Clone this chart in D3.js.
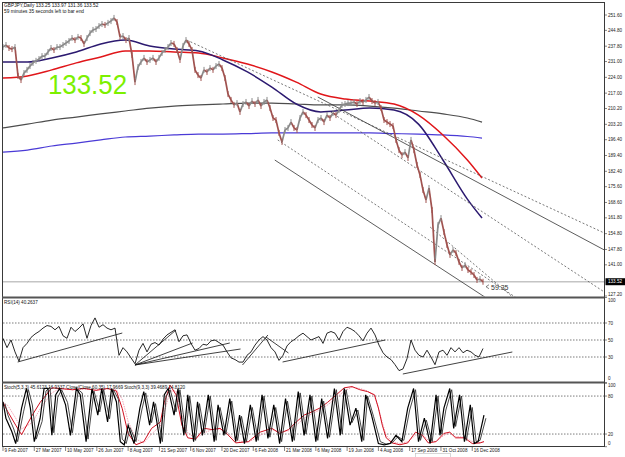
<!DOCTYPE html>
<html>
<head>
<meta charset="utf-8">
<script src="https://cdn.jsdelivr.net/npm/d3@7"></script>
<style>
body{margin:0;background:#fff}
svg{display:block}
text{font-family:"Liberation Sans",Arial,sans-serif}
</style>
</head>
<body>
<svg id="chart" width="625" height="457"></svg>
<script>
// GBPJPY daily, Feb 2007 - Dec 2008, one close every ~3 bars
var priceClose = [
	237.4,238.3,237.0,236.5,237.4,224.6,222.8,225.9,227.3,229.0,
	230.4,231.3,232.1,233.4,233.4,235.2,237.0,236.1,237.4,237.4,
	238.3,239.2,240.1,241.4,240.5,241.9,241.4,238.8,241.4,243.6,
	245.0,245.4,246.7,247.6,247.2,248.1,248.9,250.3,248.5,241.9,
	242.3,240.5,241.4,233.9,221.9,228.6,230.8,232.6,230.8,231.7,
	232.6,230.8,232.6,234.8,236.1,237.4,239.2,238.8,236.1,231.7,
	237.9,240.5,238.8,236.1,227.3,225.0,223.7,227.3,226.4,228.1,
	227.3,229.0,229.9,228.1,223.7,216.6,214.0,211.8,212.6,208.7,
	212.2,213.1,211.3,213.5,212.2,214.0,211.3,213.1,214.0,210.4,
	206.0,205.1,199.4,195.4,200.7,201.6,204.2,201.6,200.7,206.0,
	208.7,207.3,205.1,202.9,201.6,205.1,206.0,204.2,207.3,206.0,
	208.2,207.3,209.5,211.8,212.2,212.6,212.6,213.1,212.2,213.5,
	213.1,214.0,215.3,213.5,212.6,213.1,210.4,205.1,204.2,203.3,
	202.5,196.3,191.8,189.6,190.9,188.3,196.3,191.8,185.2,180.8,
	174.1,169.7,175.0,165.3,142.3,158.6,161.7,155.5,149.8,145.4,
	147.6,146.2,142.3,139.6,140.9,138.7,137.8,136.5,134.3,134.7,133.5
];
var lastPrice = 133.52;

// moving averages, sampled at these bars
var maBars  = [0,25,50,75,100,125,150,175,200,225,250,275,300,325,350,375,400,425,450,475,490];
var maNavy  = [230.8,230.8,232.6,235.2,238.8,240.5,237.9,236.5,235.7,231.7,226.4,219.7,212.2,208.7,209.5,210.4,209.5,203.3,187.4,170.1,161.7];
var maRed   = [223.7,224.6,227.3,230.4,233.0,235.7,235.7,235.2,234.8,232.6,229.9,226.4,221.9,216.6,214.4,213.5,212.2,207.3,198.5,187.4,179.4];
var maGray  = [201.6,203.3,205.1,206.4,207.8,209.1,210.4,211.3,211.8,212.2,212.6,212.6,212.2,211.8,211.8,211.3,210.4,209.1,207.8,206.0,204.2];
var maBlue  = [190.9,191.8,193.6,194.9,196.3,197.6,198.0,198.5,198.9,198.9,199.1,199.4,199.4,199.4,199.4,199.4,199.1,198.9,198.5,197.8,197.1];

// channel lines drawn on the price window: bar1, price1, bar2, price2, dotted
var mainLines = [
	[188,240.5,615,155.1,1],
	[322,215.3,615,147.6,0],
	[335,208.7,615,129.0,1],
	[278,187.4,510,121.9,0],
	[281,196.3,530,125.0,1],
	[437,157.7,525,125.4,1]
];

var priceTicks = [251.6,244.8,237.8,231.0,224.0,217.0,210.2,203.2,196.4,189.4,182.4,175.6,168.6,161.8,154.8,147.8,141.0,127.2];

// RSI(14), one value every ~4 bars
var rsiValues = [
	52,41,50,36,25,41,46,53,57,60,64,67,66,62,66,55,52,65,60,64,
	69,52,67,76,65,68,64,62,64,32,41,36,29,22,38,46,36,45,47,44,
	51,56,59,62,48,55,56,46,38,40,45,44,49,50,47,44,36,29,27,24,
	24,32,36,44,50,54,50,41,36,26,32,43,48,51,55,58,54,50,52,54,
	46,58,60,58,50,60,65,63,60,55,49,58,64,56,44,35,30,27,21,14,
	16,28,50,38,32,30,38,30,21,36,38,32,41,36,41,35,38,36,32,30,40
];
var rsiLevels = [70,50,30];
var rsiTicks = [100,70,50,30,0];
var rsiLines = [
	[15,24.1,122,58.2],
	[135,20.6,177,61.8],
	[135,20.6,194,46.5],
	[135,20.6,232,46.5],
	[135,20.6,243,39.4],
	[245,20.6,271,55.9],
	[269,53.5,292,34.7],
	[286,24.1,391,50.0],
	[409,10.0,521,35.9]
];

// stochastic, turning points
var stochBars = [0,3,9,13,19,24,28,32,38,42,46,50,54,58,64,69,75,79,85,91,
	97,101,107,111,116,120,124,128,134,140,144,150,154,161,165,169,175,179,185,189,
	195,199,204,210,216,220,226,232,238,242,247,253,259,265,271,277,283,289,296,302,
	308,314,320,326,332,339,345,349,355,361,367,371,377,384,390,396,402,408,414,420,
	425,431,437,443,447,451,457,461,467,472,478,482,486,492];
var stochMain = [71,45,24,5,61,92,61,8,45,92,92,18,82,92,66,18,92,82,8,92,
	50,92,39,92,71,8,3,34,5,61,87,34,71,5,82,92,50,92,18,82,
	8,71,18,82,8,66,18,76,8,50,5,66,8,82,13,66,5,76,8,87,
	18,82,8,76,13,92,18,92,34,61,8,82,50,5,3,5,18,8,61,92,
	8,45,5,82,18,61,92,29,82,8,66,5,8,50];
// second black line, trails the first by a couple of bars
var stochLagBars = 2;
var stochSignal = [68,50,28,8,55,90,66,12,40,88,94,22,78,90,70,22,90,85,12,88,
	55,90,44,90,75,12,5,30,8,58,85,38,68,8,80,90,55,90,22,80,
	10,68,22,80,10,62,20,72,10,48,8,62,10,80,15,62,8,72,10,85,
	20,80,10,72,15,90,20,90,38,58,10,80,48,8,4,6,16,10,58,90,
	10,42,8,80,20,58,90,32,80,10,62,8,10,45];
var slowBars = [0,5,13,19,30,38,50,58,71,83,95,107,116,122,128,136,144,152,161,165,
	171,177,183,189,197,206,214,222,230,238,251,263,275,283,292,300,308,316,324,332,
	341,349,357,365,373,380,384,388,392,398,406,414,422,429,435,443,451,457,463,472,480,488,492];
var slowMain = [70,55,34,19,50,70,93,92,90,92,89,92,88,60,21,3,8,29,39,70,
	97,82,34,14,12,29,27,29,19,6,8,23,29,21,27,39,50,55,61,70,
	82,93,95,90,87,82,61,34,14,6,3,6,23,18,6,8,21,23,14,14,5,6,8];
var slowSignal = [70,65,45,28,38,60,85,92,90,91,90,91,90,75,40,12,6,20,33,55,
	88,88,50,22,13,22,27,28,22,10,7,18,27,24,25,34,45,52,58,66,
	77,88,94,92,88,80,62,38,18,8,5,8,18,20,10,8,18,22,16,15,8,6,8];
var stochLevels = [80,20];
var stochTicks = [100,80,20,0];

var dateBars = [0,32,64,96,128,160,192,224,256,288,320,352,384,416,448,480];
var dateLabels = ["9 Feb 2007","27 Mar 2007","10 May 2007","26 Jun 2007","8 Aug 2007","21 Sep 2007","6 Nov 2007","20 Dec 2007",
	"6 Feb 2008","21 Mar 2008","6 May 2008","19 Jun 2008","4 Aug 2008","17 Sep 2008","31 Oct 2008","16 Dec 2008"];

var svg = d3.select("#chart");
var axisX = 604.5;

var x = d3.scaleLinear().domain([0, 491]).range([3, 483]);
var yP = d3.scaleLinear().domain([127.2, 251.6]).range([296, 15]);
var yR = d3.scaleLinear().domain([0, 100]).range([382.5, 297.5]);
var yS = d3.scaleLinear().domain([0, 100]).range([446.7, 383.4]);

var priceStep = 491 / (priceClose.length - 1);
var rsiStep = 491 / (rsiValues.length - 1);

var defs = svg.append("defs");
function clip(id, y0, y1){
	defs.append("clipPath").attr("id", id).append("rect")
		.attr("x", 3).attr("y", y0).attr("width", axisX - 3).attr("height", y1 - y0);
}
clip("cMain", 3, 296.5);
clip("cRsi", 299, 381.5);
clip("cSto", 384, 446);

var gMain = svg.append("g").attr("clip-path", "url(#cMain)");
var gRsi = svg.append("g").attr("clip-path", "url(#cRsi)");
var gSto = svg.append("g").attr("clip-path", "url(#cSto)");

// bid line
gMain.append("line").attr("x1", 3).attr("x2", axisX).attr("y1", yP(lastPrice)).attr("y2", yP(lastPrice))
	.attr("stroke", "#c4c4c4").attr("stroke-width", 1.6);

// MAs
function maLine(vals){
	return d3.line().x(function(d, i){ return x(maBars[i]); }).y(function(d){ return yP(d); })
		.curve(d3.curveMonotoneX)(vals);
}
[[maBlue,"#4a3ad6",1.2],[maGray,"#4d4d4d",1.2],[maRed,"#e0161a",1.5],[maNavy,"#2c1a70",1.5]].forEach(function(m){
	gMain.append("path").attr("d", maLine(m[0])).attr("fill", "none").attr("stroke", m[1]).attr("stroke-width", m[2]);
});

// trend / channel lines
gMain.selectAll("line.tl").data(mainLines).enter().append("line").attr("class", "tl")
	.attr("x1", function(d){ return x(d[0]); }).attr("y1", function(d){ return yP(d[1]); })
	.attr("x2", function(d){ return x(d[2]); }).attr("y2", function(d){ return yP(d[3]); })
	.attr("stroke", function(d){ return d[4] ? "#555" : "#333"; })
	.attr("stroke-width", 0.8)
	.attr("stroke-dasharray", function(d){ return d[4] ? "2,2" : null; });

// price bars
var pairs = d3.pairs(priceClose.map(function(c, i){ return {b: i * priceStep, c: c}; }));
gMain.selectAll("line.bar").data(pairs).enter().append("line").attr("class", "bar")
	.attr("x1", function(d){ return x(d[0].b); }).attr("y1", function(d){ return yP(d[0].c); })
	.attr("x2", function(d){ return x(d[1].b); }).attr("y2", function(d){ return yP(d[1].c); })
	.attr("stroke", function(d){ return d[1].c >= d[0].c ? "#8a8a8a" : "#a0524f"; })
	.attr("stroke-width", 1.7);
gMain.selectAll("line.tick").data(priceClose).enter().append("line").attr("class", "tick")
	.attr("x1", function(d, i){ return x(i * priceStep); }).attr("x2", function(d, i){ return x(i * priceStep); })
	.attr("y1", function(d){ return yP(d) - 3; }).attr("y2", function(d){ return yP(d) + 3; })
	.attr("stroke", function(d, i){ return i > 0 && d < priceClose[i-1] ? "#a0524f" : "#8a8a8a"; })
	.attr("stroke-width", 1);

// countdown label
var endX = x((priceClose.length - 1) * priceStep);
svg.append("path").attr("d", "M" + (endX + 6) + "," + (yP(lastPrice) + 3) + "l-3,2l3,2")
	.attr("fill", "none").attr("stroke", "#333").attr("stroke-width", 0.6);
svg.append("text").attr("x", endX + 8).attr("y", yP(lastPrice) + 8).attr("font-size", 7).attr("fill", "#333").text("59:35");

// big price
svg.append("text").attr("x", 48).attr("y", 94).attr("font-size", 28).attr("fill", "#7cf000")
	.attr("textLength", 79).attr("lengthAdjust", "spacingAndGlyphs").text("133.52");

// title
svg.append("text").attr("x", 4).attr("y", 7).attr("font-size", 4.8).attr("fill", "#111").text("GBPJPY,Daily  133.25 133.97 131.36 133.52");
svg.append("text").attr("x", 4).attr("y", 12.5).attr("font-size", 4.8).attr("fill", "#111").text("59 minutes 35 seconds left to bar end");

// RSI
gRsi.selectAll("line.lvl").data(rsiLevels).enter().append("line")
	.attr("x1", 3).attr("x2", axisX).attr("y1", function(d){ return yR(d); }).attr("y2", function(d){ return yR(d); })
	.attr("stroke", "#444").attr("stroke-width", 0.7).attr("stroke-dasharray", "1.5,1.5");
gRsi.append("path").attr("fill", "none").attr("stroke", "#111").attr("stroke-width", 0.9)
	.attr("d", d3.line().x(function(d, i){ return x(i * rsiStep); }).y(function(d){ return yR(d); })(rsiValues));
gRsi.selectAll("line.tl").data(rsiLines).enter().append("line")
	.attr("x1", function(d){ return x(d[0]); }).attr("y1", function(d){ return yR(d[1]); })
	.attr("x2", function(d){ return x(d[2]); }).attr("y2", function(d){ return yR(d[3]); })
	.attr("stroke", "#111").attr("stroke-width", 0.8);
svg.append("text").attr("x", 4).attr("y", 304).attr("font-size", 4.6).attr("fill", "#111").text("RSI(14) 40.2637");

// Stochastic
gSto.selectAll("line.lvl").data(stochLevels).enter().append("line")
	.attr("x1", 3).attr("x2", axisX).attr("y1", function(d){ return yS(d); }).attr("y2", function(d){ return yS(d); })
	.attr("stroke", "#444").attr("stroke-width", 0.7).attr("stroke-dasharray", "1.5,1.5");
function stoLine(bars, lag){
	return d3.line().x(function(d, i){ return x(bars[i] + lag); }).y(function(d){ return yS(d); });
}
gSto.append("path").attr("fill", "none").attr("stroke", "#f08aa0").attr("stroke-width", 0.8)
	.attr("stroke-dasharray", "1.5,1").attr("d", stoLine(slowBars, 0)(slowSignal));
gSto.append("path").attr("fill", "none").attr("stroke", "#d01020").attr("stroke-width", 1)
	.attr("d", stoLine(slowBars, 0)(slowMain));
gSto.append("path").attr("fill", "none").attr("stroke", "#333").attr("stroke-width", 0.9)
	.attr("d", stoLine(stochBars, stochLagBars)(stochSignal));
gSto.append("path").attr("fill", "none").attr("stroke", "#000").attr("stroke-width", 1.2)
	.attr("d", stoLine(stochBars, 0)(stochMain));
svg.append("text").attr("x", 4).attr("y", 389).attr("font-size", 4.6).attr("fill", "#111")
	.text("Stoch(5,3,3) 45.6123 16.9337   Close/Close 60.35) 17.9669   Stoch(9,3,3) 39.4689 14.8120");

// frames
svg.append("rect").attr("x", 2.5).attr("y", 2.5).attr("width", axisX - 2.5).attr("height", 444)
	.attr("fill", "none").attr("stroke", "#3a3a3a").attr("stroke-width", 1);
[297.5, 382.5].forEach(function(yy){
	svg.append("line").attr("x1", 2).attr("x2", axisX).attr("y1", yy).attr("y2", yy)
		.attr("stroke", "#555").attr("stroke-width", 2.2);
});

// right axis labels
var ax = svg.append("g").attr("font-size", 4.6).attr("fill", "#222");
priceTicks.forEach(function(p){
	var yy = yP(p);
	ax.append("line").attr("x1", axisX).attr("x2", axisX + 2.5).attr("y1", yy).attr("y2", yy).attr("stroke", "#333").attr("stroke-width", 0.6);
	ax.append("text").attr("x", axisX + 3.5).attr("y", yy + (p === 127.2 ? 0 : 1.6)).text(p.toFixed(2));
});
ax.append("rect").attr("x", axisX + 1).attr("y", yP(lastPrice) - 3.5).attr("width", 20).attr("height", 7).attr("fill", "#000");
ax.append("text").attr("x", axisX + 3.5).attr("y", yP(lastPrice) + 1.6).attr("fill", "#fff").text(lastPrice.toFixed(2));

rsiTicks.forEach(function(v){
	var yy = yR(v) + (v === 100 ? 4.6 : v === 0 ? -3 : 1.6);
	ax.append("text").attr("x", axisX + 3.5).attr("y", yy).text(v);
	ax.append("line").attr("x1", axisX).attr("x2", axisX + 2.5).attr("y1", yR(v)).attr("y2", yR(v)).attr("stroke", "#333").attr("stroke-width", 0.6);
});
stochTicks.forEach(function(v){
	var yy = yS(v) + (v === 100 ? 3.5 : v === 0 ? -2 : 1.6);
	ax.append("text").attr("x", axisX + 3.5).attr("y", yy).text(v);
	ax.append("line").attr("x1", axisX).attr("x2", axisX + 2.5).attr("y1", yS(v)).attr("y2", yS(v)).attr("stroke", "#333").attr("stroke-width", 0.6);
});

// date axis
var dx = svg.append("g").attr("font-size", 4.6).attr("fill", "#222");
dateBars.forEach(function(b, i){
	var xx = x(b);
	dx.append("line").attr("x1", xx).attr("x2", xx).attr("y1", 447).attr("y2", 451).attr("stroke", "#333").attr("stroke-width", 0.6);
	dx.append("text").attr("x", xx + 1.5).attr("y", 452).text(dateLabels[i]);
});
svg.append("rect").attr("x", 415.5).attr("y", 453.5).attr("width", 35).attr("height", 4).attr("fill", "#fff").attr("stroke", "#bbb").attr("stroke-width", 0.6);
</script>
</body>
</html>
